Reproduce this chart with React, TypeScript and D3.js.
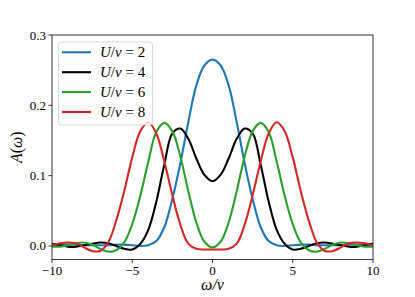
import React from 'react';
import * as d3 from 'd3';

// ω/v sample grid, -10 .. 10 in steps of 0.5
const omega = [
  -10, -9.5, -9, -8.5, -8, -7.5, -7, -6.5, -6, -5.5, -5, -4.5, -4, -3.5, -3, -2.5, -2, -1.5, -1, -0.5,
  0, 0.5, 1, 1.5, 2, 2.5, 3, 3.5, 4, 4.5, 5, 5.5, 6, 6.5, 7, 7.5, 8, 8.5, 9, 9.5, 10,
];

const aU2 = [
  0.002, 0.002, 0.002, 0.002, 0.001, 0.001, 0.001, 0.001, 0.002, 0.002, 0.001, 0.000, 0.001, 0.007, 0.027, 0.067, 0.118, 0.177, 0.229, 0.257,
  0.265, 0.257, 0.229, 0.177, 0.118, 0.067, 0.027, 0.007, 0.001, 0.000, 0.001, 0.002, 0.002, 0.001, 0.001, 0.001, 0.001, 0.002, 0.002, 0.002, 0.002,
];
const aU4 = [
  0.003, 0.001, -0.001, -0.001, 0.001, 0.003, 0.005, 0.004, 0.000, -0.004, -0.005, 0.003, 0.023, 0.063, 0.116, 0.160, 0.167, 0.152, 0.124, 0.101,
  0.092, 0.101, 0.124, 0.152, 0.167, 0.160, 0.116, 0.063, 0.023, 0.003, -0.005, -0.004, 0.000, 0.004, 0.005, 0.003, 0.001, -0.001, -0.001, 0.001, 0.003,
];
const aU6 = [
  -0.001, -0.001, 0.001, 0.004, 0.005, 0.002, -0.004, -0.008, -0.006, 0.005, 0.031, 0.071, 0.120, 0.162, 0.175, 0.163, 0.127, 0.077, 0.033, 0.006,
  -0.002, 0.006, 0.033, 0.077, 0.127, 0.163, 0.175, 0.162, 0.120, 0.071, 0.031, 0.005, -0.006, -0.008, -0.004, 0.002, 0.005, 0.004, 0.001, -0.001, -0.001,
];
const aU8 = [
  0.001, 0.004, 0.005, 0.004, -0.002, -0.007, -0.007, 0.005, 0.036, 0.078, 0.126, 0.163, 0.176, 0.160, 0.120, 0.072, 0.030, 0.003, -0.004, -0.005,
  -0.005, -0.005, -0.004, 0.003, 0.030, 0.072, 0.120, 0.160, 0.176, 0.163, 0.126, 0.078, 0.036, 0.005, -0.007, -0.007, -0.002, 0.004, 0.005, 0.004, 0.001,
];

const seriesU = ['2', '4', '6', '8'];
const seriesValues = [aU2, aU4, aU6, aU8];
const seriesColors = ['#1f77b4', '#000000', '#2ca02c', '#d62728'];

const xTicks = [-10, -5, 0, 5, 10];
const yTicks = [0, 0.1, 0.2, 0.3];

const W = 415, H = 297;
const m = { left: 52, right: 373, top: 35, bottom: 259.5 };
const serif = "'Liberation Serif', 'DejaVu Serif', serif";
const axisCol = '#333';

export default function App() {
  const x = d3.scaleLinear().domain([-10, 10]).range([m.left, m.right]);
  const y = d3.scaleLinear().domain([-0.0192, 0.3]).range([m.bottom, m.top]);
  const line = d3.line<[number, number]>()
    .x(d => x(d[0])).y(d => y(d[1]))
    .curve(d3.curveCatmullRom.alpha(0.5));
  const fmtX = (v: number) => (v < 0 ? '\u2212' + Math.abs(v) : String(v));
  const txt = (size: number, italic = false) => ({ fontFamily: serif, fontSize: size, fontStyle: italic ? 'italic' : 'normal' });

  return (
    <svg width={W} height={H} style={{ position: 'absolute', left: 0, top: 0, background: '#fff' }}>
      <defs>
        <clipPath id="plot">
          <rect x={m.left} y={m.top} width={m.right - m.left} height={m.bottom - m.top} />
        </clipPath>
      </defs>
      <g clipPath="url(#plot)">
        {seriesValues.map((vals, i) => (
          <path key={i} d={line(omega.map((w, j) => [w, vals[j]] as [number, number])) || ''}
            fill="none" stroke={seriesColors[i]} strokeWidth={2.1} strokeLinejoin="round" />
        ))}
      </g>
      <rect x={m.left} y={m.top} width={m.right - m.left} height={m.bottom - m.top}
        fill="none" stroke={axisCol} strokeWidth={1} />
      {xTicks.map(t => (
        <g key={t}>
          <line x1={x(t)} x2={x(t)} y1={m.bottom} y2={m.bottom + 3.5} stroke={axisCol} />
          <text x={x(t)} y={m.bottom + 15} textAnchor="middle" style={txt(13)}>{fmtX(t)}</text>
        </g>
      ))}
      {yTicks.map(t => (
        <g key={t}>
          <line x1={m.left - 3.5} x2={m.left} y1={y(t)} y2={y(t)} stroke={axisCol} />
          <text x={m.left - 6} y={y(t) + 4.5} textAnchor="end" style={txt(13)}>{t.toFixed(1)}</text>
        </g>
      ))}
      <text x={(m.left + m.right) / 2} y={290} textAnchor="middle" style={txt(16, true)}>ω/v</text>
      <text transform={`translate(22,${(m.top + m.bottom) / 2}) rotate(-90)`} textAnchor="middle" style={txt(16)}>
        <tspan fontStyle="italic">A</tspan>(<tspan fontStyle="italic">ω</tspan>)
      </text>
      <g>
        <rect x={58.5} y={42} width={94} height={83} rx={3} fill="#fff" fillOpacity={0.8} stroke="#d0d0d0" strokeWidth={0.8} />
        {seriesU.map((u, i) => {
          const ly = 52.3 + i * 19.9;
          return (
            <g key={u}>
              <line x1={62} x2={91} y1={ly} y2={ly} stroke={seriesColors[i]} strokeWidth={2.1} />
              <text x={100} y={ly + 5} style={txt(15)}>
                <tspan fontStyle="italic">U</tspan>/<tspan fontStyle="italic">v</tspan> = {u}
              </text>
            </g>
          );
        })}
      </g>
    </svg>
  );
}
